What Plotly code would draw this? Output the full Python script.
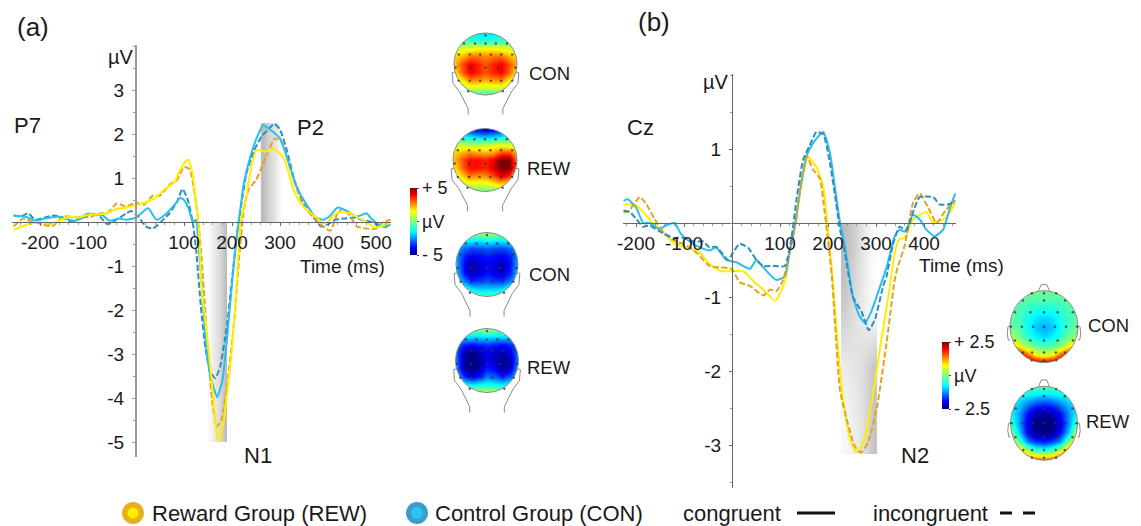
import numpy as np
import plotly.graph_objects as go

W, H = 1141, 526

# ---------- panel (a) P7 ----------
a_rew_con_t = [-255,-225,-200,-180,-165,-140,-120,-100,-80,-60,-40,-20,0,20,40,60,80,95,108,118,125,130,137,152,161,168,173,183,199,209,218,230,241,251,262,272,286,307,321,331,345,362,376,390,400,411,425,446,463,480,498,515,530]
a_rew_con_v = [-.18,-.05,0,-.05,0,.12,.1,.17,.17,.2,.3,.33,.38,.45,.55,.75,.9,1.25,1.42,1.1,.4,0,-1.5,-3,-4,-4.8,-4.97,-4.5,-3,-1.5,0,.6,1.3,1.63,1.62,1.6,1.67,1.47,1,.65,.4,.22,.1,-.03,0,.15,.22,.2,.1,0,-.12,-.08,0]
a_rew_inc_t = [-255,-235,-215,-195,-175,-150,-120,-95,-75,-60,-40,-20,0,15,35,50,70,85,100,112,120,128,135,143,150,158,168,178,190,205,215,225,235,250,262,275,290,305,320,335,350,375,390,405,420,430,445,460,480,500,515,530]
a_rew_inc_v = [-.1,.08,0,-.05,-.1,.13,.1,.12,.2,.2,.42,.35,.45,.38,.6,.6,.85,.95,1.25,1.2,.8,.2,-.6,-1.8,-3,-4,-4.65,-4.5,-3.7,-2.2,-.8,.3,.75,.95,1.25,1.6,1.9,1.8,1.25,.75,.35,.05,-.1,-.2,.2,.3,.15,-.1,-.15,-.15,0,.05]
a_con_con_t = [-255,-230,-210,-190,-165,-150,-130,-110,-95,-70,-55,-35,-20,0,25,43,64,85,92,100,110,118,125,130,137,145,155,169,180,190,200,208,215,225,240,255,265,285,300,315,335,355,375,390,405,420,440,460,480,490,505,520,530]
a_con_con_v = [.15,.12,.03,.08,.12,.1,.02,.1,.18,.15,.03,.08,.05,.1,.31,.05,.2,.45,.55,.5,.3,0,.05,-.5,-1.4,-2.7,-3.5,-3.98,-3.6,-2.6,-1.4,-.5,.1,.9,1.55,2,2.2,2.05,1.9,1.45,.8,.4,.1,.05,.15,.33,.25,.12,.2,.08,-.05,-.12,-.05]
a_con_inc_t = [-255,-240,-225,-210,-190,-170,-150,-135,-115,-95,-75,-60,-45,-20,-10,5,20,35,50,70,85,97,108,118,125,135,145,155,165,175,190,200,210,218,230,245,262,275,288,300,315,330,350,370,385,400,415,435,455,470,490,510,530]
a_con_inc_v = [.15,.12,.2,.05,.1,.15,.08,.02,.12,.2,.12,-.05,.02,.2,.25,.12,-.1,-.15,-.02,.2,.45,.75,.5,0,-.6,-1.9,-2.9,-3.4,-3.55,-3.3,-2.3,-1.3,-.3,.3,1.1,1.6,1.95,2.1,2.23,2.1,1.6,.95,.4,.1,-.1,-.05,.05,.08,.1,.05,0,-.1,-.05]

# ---------- panel (b) Cz ----------
b_rew_con_t = [-226,-203,-185,-165,-144,-120,-95,-71,-47,-23,-1,23,44,65,90,110,120,134,148,158,176,190,197,208,228,246,260,273,291,312,329,339,349,360,377,405,419,446,465]
b_rew_con_v = [.25,.25,.15,0,-.12,-.28,-.33,-.38,-.55,-.65,-.65,-.65,-.78,-.9,-1.05,-.8,-.4,.1,.65,.9,.75,.5,.1,-.63,-2.21,-2.93,-3.1,-2.97,-2.43,-1.54,-.85,-.4,-.22,-.2,.05,.15,0,.07,.27]
b_rew_inc_t = [-226,-217,-192,-178,-161,-140,-116,-95,-71,-47,-23,-1,16,37,65,79,92,106,120,134,145,156,169,183,193,208,225,242,256,269,283,301,322,339,346,360,377,391,408,426,446,465]
b_rew_inc_v = [.15,.15,.35,.25,.05,-.15,-.25,-.3,-.42,-.58,-.6,-.62,-.8,-.85,-.98,-.9,-.92,-.78,-.4,.05,.6,.9,.72,.6,.15,-.72,-2.26,-2.73,-3.02,-3.1,-2.97,-2.53,-1.62,-.77,-.58,-.3,.27,.4,.22,0,.18,.3]
b_con_con_t = [-226,-217,-199,-185,-172,-151,-137,-120,-106,-88,-67,-46,-33,-12,9,37,51,65,92,110,120,131,141,155,169,190,204,214,224,235,252,265,277,290,301,322,339,349,360,377,391,405,422,440,453,465]
b_con_con_v = [.3,.32,.2,0,0,-.08,-.03,0,-.15,-.25,-.33,-.37,-.33,-.5,-.53,-.62,-.5,-.6,-.77,-.72,-.4,-.05,.4,.9,1.08,1.23,.95,.5,.05,-.3,-1,-1.25,-1.35,-1.2,-1,-.6,-.18,-.09,-.12,.11,.05,-.09,-.18,-.09,.18,.4]
b_con_inc_t = [-226,-213,-199,-185,-172,-154,-140,-123,-102,-81,-60,-47,-33,-8,2,16,33,51,65,85,110,124,134,148,162,176,190,203,214,224,235,252,270,285,298,315,322,335,349,363,380,391,419,433,450,465]
b_con_inc_v = [.17,.15,.05,-.05,-.03,-.1,-.15,-.2,-.2,-.25,-.25,-.33,-.32,-.5,-.4,-.28,-.33,-.5,-.58,-.58,-.58,-.2,.3,.85,1.05,1.23,1.2,.85,.4,-.05,-.4,-1,-1.2,-1.45,-1.3,-.85,-.72,-.3,-.05,-.1,.2,.35,.35,.25,.25,.3]

# ---------- ticks ----------
a_xticks = [-200,-100,100,200,300,400,500]
a_yticks = [3,2,1,-1,-2,-3,-4,-5]
b_xticks = [-200,-100,100,200,300,400]
b_yticks = [1,-1,-2,-3]

# ---------- measurement windows (ms, µV extent, grey levels) ----------
n1_window = [150,190]; n1_extent = [-5,0]
p2_window = [260,306]; p2_extent = [0,2.25]
n2_window = [227,302]; n2_extent = [-3.12,0]
n1_grey = [[.1,.25,.4,.55,.75,1]]*2
p2_grey = [[1,.8,.6,.45,.25,.05]]*2
n2_grey = [[1,.85,.65,.4,.2,.05],[.75,.6,.45,.3,.15,.03],[.3,.35,.4,.5,.65,.85],[.1,.2,.3,.45,.65,.9]]

# ---------- topographies (rows y=+1 to -1, columns x=-1 to +1) ----------
grid_axis = [-1,-.75,-.5,-.25,0,.25,.5,.75,1]
topo_a_con_p2 = [[-1.8]*9,[-.5,-.5,-.6,-.9,-1,-.9,-.6,-.5,-.5],[1,1,1.2,1.4,1.4,1.4,1.2,1,1],[1.8,2.2,2.8,2.8,2.6,2.8,2.8,2.2,1.8],[2,3.2,4,3.6,3.1,3.6,4,3.2,2],[1.5,3,4,3.6,3.1,3.6,4,3,1.5],[.8,1.8,2.8,2.6,2.4,2.6,2.8,1.8,.8],[0,.6,1.2,1.2,1,1.2,1.2,.6,0],[-1,-1,-1,-1,-1.2,-1,-1,-1,-1]]
topo_a_rew_p2 = [[-4,-4,-4,-4.2,-4.4,-4.2,-4,-4,-4],[-1,-1.2,-1.6,-2,-2.2,-2,-1.6,-1.2,-1],[1,.8,.6,.6,.8,1,1.2,1,.8],[1.8,2.2,2.6,2.4,2.2,2.4,3.2,3.2,2],[2,3,3.8,3.8,3.6,4,5,5,2.6],[1.5,2.8,3.8,3.8,3.6,4.2,5,5,2.8],[.8,1.8,2.8,2.6,2.6,3.2,4.2,3.6,1.4],[0,.6,1.2,1.2,1.2,1.6,2,1.4,.4],[-.8,-.8,-.6,-.4,-.4,-.4,-.4,-.6,-.8]]
topo_a_con_n1 = [[0,0,0,.4,.6,.4,0,0,0],[-1.4,-1.4,-1.6,-1.6,-1.4,-1.6,-1.6,-1.4,-1.4],[-2.2,-3,-3.2,-3.2,-3,-3.2,-3.2,-3,-2.2],[-2.4,-3.6,-4.1,-3.9,-3.7,-3.9,-4.1,-3.6,-2.4],[-2.2,-4,-4.7,-4.3,-3.9,-4.3,-4.6,-3.8,-2],[-2,-3.8,-4.6,-4.2,-3.8,-4.2,-4.4,-3.6,-1.8],[-1.5,-2.8,-3.6,-3.4,-3.2,-3.4,-3.4,-2.8,-1.4],[0,-1,-1.8,-2,-2,-2,-1.8,-1,0],[1,.5,0,-.3,-.5,-.3,0,.5,1]]
topo_a_rew_n1 = [[0,0,0,.2,.4,.2,0,0,0],[-1.5,-1.6,-1.8,-1.8,-1.6,-1.8,-1.8,-1.6,-1.5],[-2.6,-3.6,-3.8,-3.6,-3.4,-3.6,-3.8,-3.6,-2.6],[-2.8,-4.6,-5,-4.6,-4,-4.4,-4.6,-4,-2.6],[-2.6,-4.8,-5,-4.8,-4,-4.4,-5,-4.6,-2.4],[-2.4,-4.6,-5,-4.6,-3.6,-4,-4.8,-4.2,-2],[-1.6,-3.4,-4.2,-3.6,-2.8,-3,-3.6,-3,-1.4],[0,-1.2,-1.6,-1.4,-1.2,-1.4,-1.6,-1,0],[1,.8,.8,.8,.8,.8,.8,.8,1]]
topo_b_con_n2 = [[-.1]*9,[-.2,-.2,-.25,-.3,-.3,-.3,-.25,-.2,-.2],[-.2,-.3,-.45,-.6,-.65,-.6,-.45,-.3,-.2],[-.2,-.35,-.6,-.85,-.95,-.85,-.6,-.35,-.2],[-.1,-.3,-.65,-1,-1.15,-1,-.65,-.3,-.1],[.3,-.1,-.5,-.8,-.95,-.8,-.5,-.1,.3],[1,.7,.1,-.25,-.35,-.25,.1,.7,1],[2.4,2,1.5,.7,.4,.7,1.5,2,2.4],[2.5,2.5,2.5,2.4,2.3,2.4,2.5,2.5,2.5]]
topo_b_rew_n2 = [[-.4,-.4,-.4,-.3,-.3,-.3,-.4,-.4,-.4],[-.7,-.7,-.8,-.9,-1,-.9,-.8,-.7,-.7],[-.8,-1,-1.4,-1.7,-1.8,-1.7,-1.4,-1,-.8],[-.7,-1.2,-1.9,-2.3,-2.4,-2.3,-1.9,-1.2,-.7],[-.4,-1.2,-2.1,-2.5,-2.5,-2.5,-2.1,-1.2,-.2],[.1,-1,-2,-2.4,-2.5,-2.4,-1.9,-.9,.6],[.9,-.3,-1.3,-1.7,-1.8,-1.6,-1.2,.1,1.6],[1.9,1.2,.3,-.3,-.5,-.2,.5,1.9,2.5],[2.3,2.2,2,1.8,1.7,1.9,2.3,2.5,2.5]]

# electrode montage: (row y, row x positions)
montage_a = [(.92,[0]),(.66,[-.68,-.33,0,.33,.68]),(.31,[-.85,-.5,-.17,.17,.5,.85]),(-.11,[-.95,-.5,0,.4,.95]),(-.54,[-.85,-.5,-.17,.17,.5,.85]),(-.88,[-.55,.55])]
montage_b = [(.93,[-.36,0,.36]),(.73,[-.62,0,.62]),(.4,[-.85,-.4,0,.4,.85]),(0,[-.97,-.65,-.32,0,.32,.65,.97]),(-.38,[-.85,-.4,0,.4,.85]),(-.72,[-.62,-.35,0,.35,.62]),(-.93,[-.36,0,.36])]

# ---------- styling ----------
FONT = "Liberation Sans"
YEL, ORA, BLU, DBL = "#ffee00", "#e2a31e", "#2dbdec", "#2b90bd"
TXT = "#1a1a1a"
JET = [[0,"#00007f"],[.11,"#0000ff"],[.35,"#00ffff"],[.5,"#7fff7f"],[.65,"#ffff00"],[.89,"#ff0000"],[1,"#7f0000"]]
GREY = [[0,"#ffffff"],[1,"#bcbcbc"]]

fx = lambda px: px / W
fy = lambda py: 1 - py / H

fig = go.Figure()
layout = {}

def main_axes(n, x0px, x1px, ytop, ybot, zero_x, zero_y, pxms, pxuv, xticks, yticks, yw, ycol):
    s = "" if n == 1 else str(n)
    layout["xaxis"+s] = dict(domain=[fx(x0px), fx(x1px)], range=[(x0px-zero_x)/pxms, (x1px-zero_x)/pxms],
        anchor="free", position=fy(zero_y), showgrid=False, zeroline=False, showline=True, linecolor="#666", linewidth=1,
        tickmode="array", tickvals=xticks, ticktext=[str(v) for v in xticks], ticks="outside", ticklen=3, tickcolor="#666",
        tickfont=dict(family=FONT, size=19, color=TXT),
        minor=dict(dtick=20, tick0=0, ticks="outside", ticklen=2, tickcolor="#999"))
    layout["yaxis"+s] = dict(domain=[fy(ybot), fy(ytop)], range=[(zero_y-ybot)/pxuv, (zero_y-ytop)/pxuv],
        anchor="free", position=fx(zero_x), showgrid=False, zeroline=False, showline=True, linecolor=ycol, linewidth=yw,
        tickmode="array", tickvals=yticks, ticktext=[str(v) for v in yticks], ticks="outside", ticklen=3, tickcolor=ycol,
        ticklabelstandoff=4, tickfont=dict(family=FONT, size=19, color=TXT),
        minor=dict(dtick=.5, tick0=0, ticks="outside", ticklen=2, tickcolor="#999"))

main_axes(1, 12, 391, 45, 457, 136, 222, .48, 44, a_xticks, a_yticks, 2, "#999")
main_axes(2, 623, 956, 74, 488, 732, 223, .48, 74, b_xticks, b_yticks, 1, "#666")

def window(x, y, grey, xa, ya):
    xe = np.linspace(x[0], x[1], len(grey[0]) + 1)
    ye = np.linspace(y[0], y[1], len(grey) + 1)
    fig.add_trace(go.Heatmap(x=xe, y=ye, z=grey[::-1], zsmooth="best", colorscale=GREY, zmin=0, zmax=1,
                             showscale=False, hoverinfo="skip", xaxis=xa, yaxis=ya))

window(n1_window, n1_extent, n1_grey, "x", "y")
window(p2_window, p2_extent, p2_grey, "x", "y")
window(n2_window, n2_extent, n2_grey, "x2", "y2")

def erp(t, v, col, dashed, xa, ya):
    fig.add_trace(go.Scatter(x=t, y=v, mode="lines", xaxis=xa, yaxis=ya, showlegend=False, hoverinfo="skip",
        line=dict(color=col, width=2, shape="spline", smoothing=.5, dash="6px,2.5px" if dashed else "solid")))

erp(a_con_inc_t, a_con_inc_v, DBL, True, "x", "y")
erp(a_rew_inc_t, a_rew_inc_v, ORA, True, "x", "y")
erp(a_con_con_t, a_con_con_v, BLU, False, "x", "y")
erp(a_rew_con_t, a_rew_con_v, YEL, False, "x", "y")
erp(b_rew_con_t, b_rew_con_v, YEL, False, "x2", "y2")
erp(b_con_con_t, b_con_con_v, BLU, False, "x2", "y2")
erp(b_rew_inc_t, b_rew_inc_v, ORA, True, "x2", "y2")
erp(b_con_inc_t, b_con_inc_v, DBL, True, "x2", "y2")

SPAN = 1.9
next_ax = [3]
def topo(z, cx, cy, rx, ry, caxis, montage, style):
    n = next_ax[0]; next_ax[0] += 1
    xa, ya = f"x{n}", f"y{n}"
    layout[f"xaxis{n}"] = dict(domain=[fx(cx-SPAN*rx), fx(cx+SPAN*rx)], range=[-SPAN, SPAN], visible=False, anchor=ya)
    layout[f"yaxis{n}"] = dict(domain=[fy(cy+SPAN*ry), fy(cy-SPAN*ry)], range=[-SPAN, SPAN], visible=False, anchor=xa)
    fig.add_trace(go.Heatmap(x=grid_axis, y=grid_axis, z=z[::-1], zsmooth="best", coloraxis=caxis,
                             hoverinfo="skip", xaxis=xa, yaxis=ya))
    th = np.linspace(0, 2*np.pi, 121)
    s = 1.3
    # white mask: square clockwise, circle anticlockwise, joined at one seam
    mx = np.r_[[1, s, s, -s, -s, s, s], np.cos(th)]
    my = np.r_[[0, 0, -s, -s, s, s, 0], np.sin(th)]
    fig.add_trace(go.Scatter(x=mx, y=my, mode="lines", fill="toself", fillcolor="white", line=dict(width=0),
                             hoverinfo="skip", showlegend=False, xaxis=xa, yaxis=ya))
    lines = [(np.cos(th), np.sin(th))]
    if style == "a":
        for sg in (-1, 1):
            lines.append(([sg*.97, sg*1.06, sg*1.03, sg*.82, sg*.55, sg*.55], [-.26, -.28, -.63, -.9, -1.44, -1.63]))
    else:
        lines.append(([-.17, -.08, .08, .17], [.98, 1.17, 1.17, .98]))
        for sg in (-1, 1):
            lines.append(([sg*1, sg*1.06, sg*1.08, sg*1.05, sg*1], [.02, 0, -.2, -.37, -.37]))
    for lx, ly in lines:
        fig.add_trace(go.Scatter(x=lx, y=ly, mode="lines", line=dict(color="#8a8a8a", width=1),
                                 hoverinfo="skip", showlegend=False, xaxis=xa, yaxis=ya))
    ex = [v for row in montage for v in row[1]]
    ey = [row[0] for row in montage for _ in row[1]]
    fig.add_trace(go.Scatter(x=ex, y=ey, mode="markers", marker=dict(size=2.5, color="rgba(50,50,50,.75)"),
                             hoverinfo="skip", showlegend=False, xaxis=xa, yaxis=ya))

topo(topo_a_con_p2, 485.5, 64, 31.5, 31, "coloraxis", montage_a, "a")
topo(topo_a_rew_p2, 485, 160, 32, 31.5, "coloraxis", montage_a, "a")
topo(topo_a_con_n1, 487, 264.5, 31, 32, "coloraxis", montage_a, "a")
topo(topo_a_rew_n1, 487, 360.5, 31.5, 32, "coloraxis", montage_a, "a")
topo(topo_b_con_n2, 1044, 326.7, 34, 36, "coloraxis2", montage_b, "b")
topo(topo_b_rew_n2, 1044, 423.3, 33.5, 37, "coloraxis2", montage_b, "b")

def cbar(x, ytop, length, vals, text):
    return dict(x=fx(x), xanchor="left", xref="paper", y=fy(ytop), yanchor="top", yref="paper", lenmode="pixels", len=length,
                thicknessmode="pixels", thickness=7, xpad=0, ypad=0, outlinewidth=0, tickmode="array", tickvals=vals, ticktext=text,
                ticks="outside", ticklen=2, tickcolor="#444", tickfont=dict(family=FONT, size=18, color=TXT))

layout["coloraxis"] = dict(colorscale=JET, cmin=-5, cmax=5, colorbar=cbar(410, 188, 67, [-5, 0, 5], ["- 5", "µV", "+ 5"]))
layout["coloraxis2"] = dict(colorscale=JET, cmin=-2.5, cmax=2.5, colorbar=cbar(942, 342, 67, [-2.5, 0, 2.5], ["- 2.5", "µV", "+ 2.5"]))

labels = [("(a)", 15, 27, 26), ("(b)", 636, 22, 26), ("P7", 12, 126, 22), ("P2", 295, 127, 22), ("N1", 242, 455, 22), ("N2", 899, 455, 22),
          ("Cz", 625, 128, 22), ("µV", 106, 57, 20), ("µV", 701, 82, 20), ("Time (ms)", 298, 266, 19), ("Time (ms)", 917, 265, 19),
          ("CON", 527, 74, 18.5), ("REW", 525, 168, 18.5), ("CON", 527, 274, 18.5), ("REW", 525, 367, 18.5),
          ("CON", 1086, 325, 18.5), ("REW", 1084, 421, 18.5),
          ("Reward Group (REW)", 150, 513, 22), ("Control Group (CON)", 433, 513, 22), ("congruent", 681, 513, 22), ("incongruent", 871, 513, 22)]
anns = [dict(text=t, x=fx(x), y=fy(y), xref="paper", yref="paper", xanchor="left", yanchor="middle", showarrow=False,
             font=dict(family=FONT, size=s, color=TXT)) for t, x, y, s in labels]

def dot(cx, cy, r, fill):
    return dict(type="circle", xref="paper", yref="paper", x0=fx(cx-r), x1=fx(cx+r), y0=fy(cy+r), y1=fy(cy-r), fillcolor=fill, line=dict(width=0))

shapes = [dot(133, 513, 11, "#e8b01c"), dot(133, 513, 5.5, "#ffee00"), dot(417, 513, 11, "#3a9fc8"), dot(417, 513, 6, "#2dc4f2"),
          dict(type="line", xref="paper", yref="paper", x0=fx(797), x1=fx(835), y0=fy(513), y1=fy(513), line=dict(color="#111", width=3)),
          dict(type="line", xref="paper", yref="paper", x0=fx(1000), x1=fx(1012), y0=fy(513), y1=fy(513), line=dict(color="#111", width=3)),
          dict(type="line", xref="paper", yref="paper", x0=fx(1023), x1=fx(1035), y0=fy(513), y1=fy(513), line=dict(color="#111", width=3))]

fig.update_layout(width=W, height=H, margin=dict(l=0, r=0, t=0, b=0, pad=0, autoexpand=False), paper_bgcolor="white", plot_bgcolor="rgba(0,0,0,0)",
                  showlegend=False, annotations=anns, shapes=shapes, **layout)

fig.write_html("out.html", config=dict(displayModeBar=False),
               post_script="document.body.style.margin='0';document.body.style.overflow='hidden';")
